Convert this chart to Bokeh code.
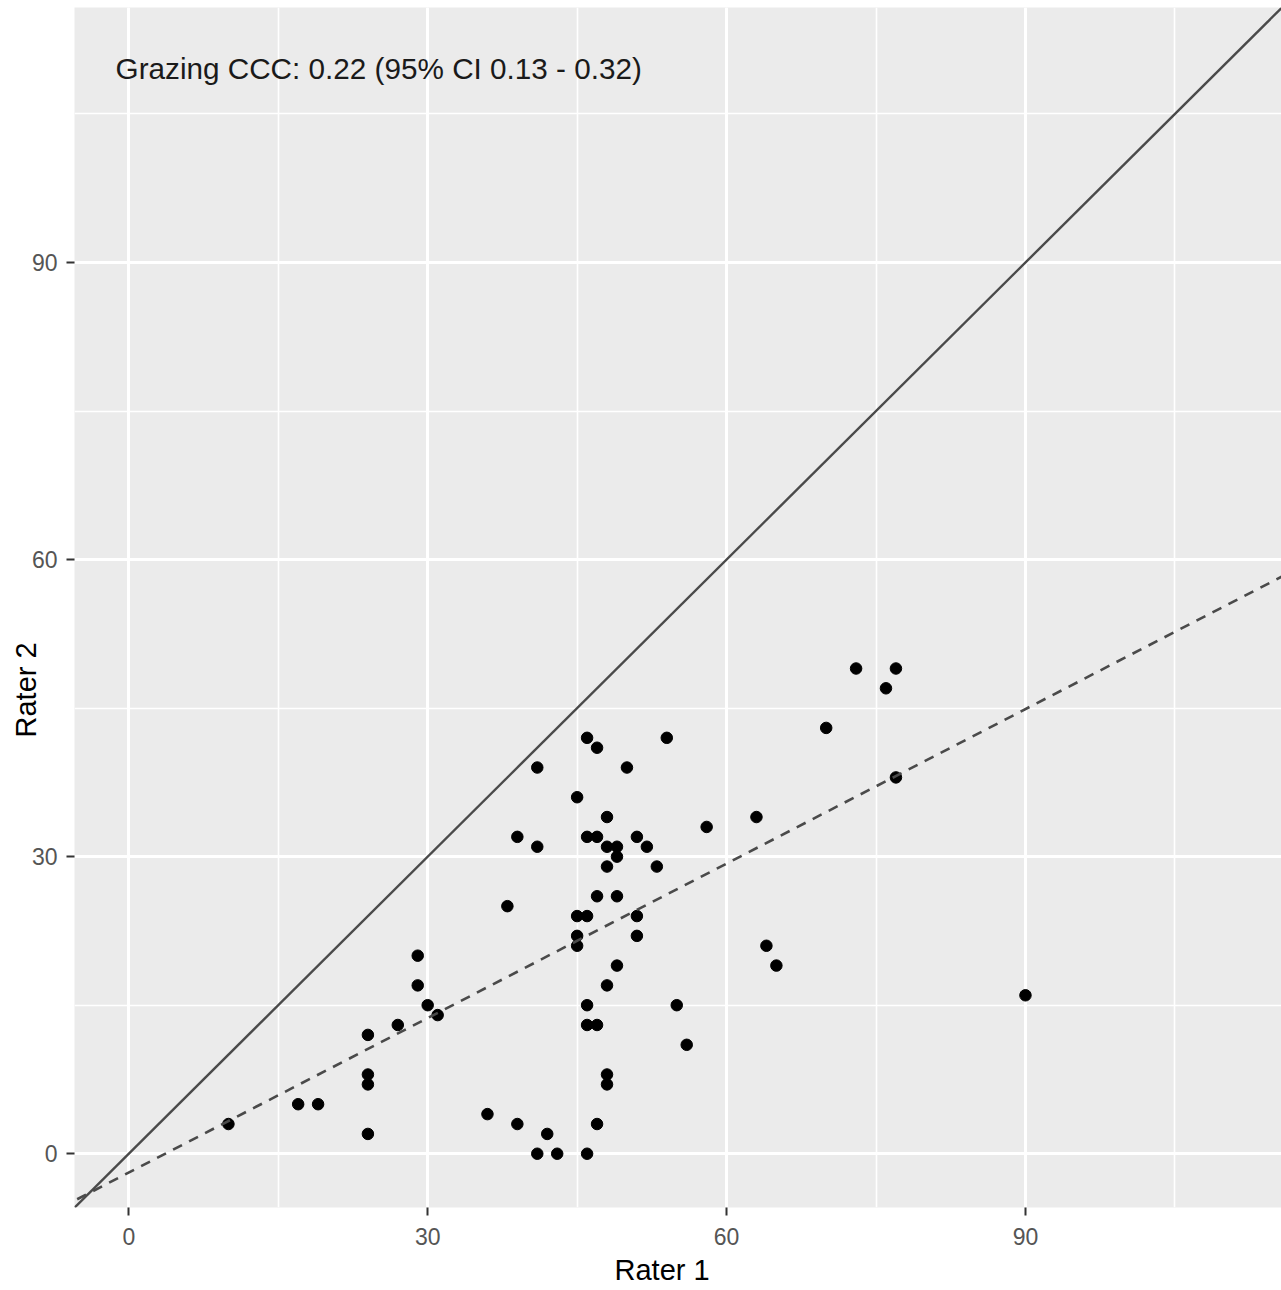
from bokeh.plotting import figure
from bokeh.models import Range1d, SingleIntervalTicker, Slope, Label, Title, ColumnDataSource
from bokeh.embed import file_html
from bokeh.resources import INLINE

# ---- data ----
rater1 = [10, 17, 19, 24, 24, 24, 24, 27, 29, 29, 30, 31, 36, 38, 39, 39, 41, 41, 41, 42, 43,
          45, 45, 45, 45, 46, 46, 46, 46, 46, 46, 47, 47, 47, 47, 47, 48, 48, 48, 48, 48, 48,
          49, 49, 49, 49, 50, 51, 51, 51, 52, 53, 54, 55, 56, 58, 63, 64, 65, 70, 73, 76, 77, 77, 90]
rater2 = [3, 5, 5, 12, 8, 7, 2, 13, 20, 17, 15, 14, 4, 25, 32, 3, 39, 31, 0, 2, 0,
          36, 24, 22, 21, 42, 32, 24, 15, 13, 0, 41, 32, 26, 13, 3, 34, 31, 29, 17, 8, 7,
          31, 30, 26, 19, 39, 32, 24, 22, 31, 29, 42, 15, 11, 33, 34, 21, 19, 43, 49, 47, 49, 38, 16]
identity_slope, identity_intercept = 1.0, 0.0
fit_slope, fit_intercept = 0.52, -1.9
annotation_text = "Grazing CCC: 0.22 (95% CI 0.13 - 0.32)"
x_title = "Rater 1"
y_title = "Rater 2"
tick_interval = 30

source = ColumnDataSource(dict(x=rater1, y=rater2))

p = figure(width=1281, height=1290, output_backend="svg", toolbar_location=None,
           x_range=Range1d(-5.45, 115.7), y_range=Range1d(-5.43, 115.75),
           min_border_left=74, min_border_right=0, min_border_top=7, min_border_bottom=83)

p.background_fill_color = "#EBEBEB"
p.border_fill_color = "white"
p.outline_line_color = None

for ax in (p.xaxis[0], p.yaxis[0]):
    ax.ticker = SingleIntervalTicker(interval=tick_interval, num_minor_ticks=2)
    ax.axis_line_color = None
    ax.major_tick_in = 0
    ax.major_tick_out = 8
    ax.major_tick_line_color = "#333333"
    ax.major_tick_line_width = 2
    ax.minor_tick_line_color = None
    ax.major_label_text_font = "Liberation Sans"
    ax.major_label_text_font_size = "23px"
    ax.major_label_text_color = "#555555"

p.xaxis[0].major_label_standoff = 12
p.yaxis[0].major_label_standoff = 9

for g in (p.xgrid[0], p.ygrid[0]):
    g.grid_line_color = "white"
    g.grid_line_width = 3
    g.minor_grid_line_color = "white"
    g.minor_grid_line_width = 1.6

p.add_layout(Slope(gradient=identity_slope, y_intercept=identity_intercept,
                   line_color="#4a4a4a", line_width=2.4))
p.add_layout(Slope(gradient=fit_slope, y_intercept=fit_intercept,
                   line_color="#4a4a4a", line_width=2.6, line_dash="10 8"))

p.scatter("x", "y", source=source, size=11.5, color="black", line_color="black")

p.add_layout(Label(x=-1.33, y=109.6, text=annotation_text, text_font="Liberation Sans",
                   text_font_size="29.7px", text_color="#1a1a1a", text_baseline="middle",
                   text_align="left"))

# axis titles (placed as in the reference, not centred on the panel)
p.add_layout(Title(text=x_title, align="left", vertical_align="bottom", offset=540,
                   standoff=8, text_font="Liberation Sans", text_font_size="29px",
                   text_font_style="normal", text_color="black"), "below")
p.add_layout(Title(text=y_title, align="left", vertical_align="bottom", offset=470,
                   standoff=-26, text_font="Liberation Sans", text_font_size="29px",
                   text_font_style="normal", text_color="black"), "left")

open("out.html", "w").write(file_html(p, INLINE))
